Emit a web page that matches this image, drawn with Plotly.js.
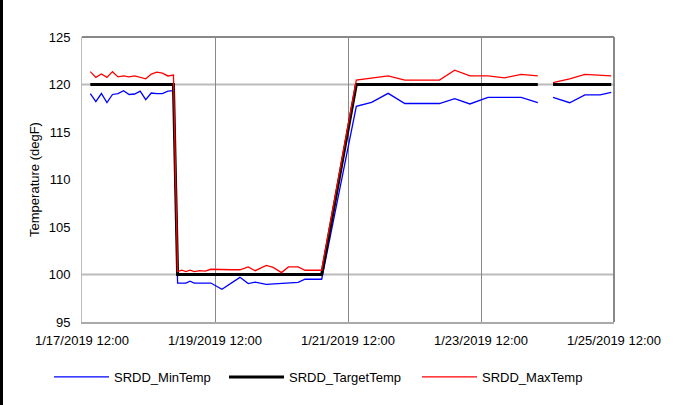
<!DOCTYPE html>
<html>
<head>
<meta charset="utf-8">
<script src="https://cdn.plot.ly/plotly-3.0.1.min.js"></script>
<style>
html,body{margin:0;padding:0;background:#fff;}
#frame{position:absolute;left:0;top:0;width:673px;height:405px;box-sizing:border-box;border-left:3px solid #000;}
#chart{position:absolute;left:0;top:0;width:673px;height:405px;}
</style>
</head>
<body>
<div id="chart"></div>
<div id="frame"></div>
<script>
// Sample times
const times = [
  "2019-01-17 15:00","2019-01-17 17:00","2019-01-17 19:00","2019-01-17 21:00","2019-01-17 23:00",
  "2019-01-18 01:00","2019-01-18 03:00","2019-01-18 05:00","2019-01-18 07:00","2019-01-18 09:00",
  "2019-01-18 11:00","2019-01-18 13:00","2019-01-18 15:00","2019-01-18 17:00","2019-01-18 19:00",
  "2019-01-18 21:00",
  "2019-01-18 22:30","2019-01-19 00:00","2019-01-19 01:30","2019-01-19 03:00","2019-01-19 04:30",
  "2019-01-19 06:30","2019-01-19 08:30","2019-01-19 10:30","2019-01-19 14:30","2019-01-19 18:00",
  "2019-01-19 21:00","2019-01-20 00:00","2019-01-20 02:30","2019-01-20 06:30","2019-01-20 09:00",
  "2019-01-20 12:00","2019-01-20 14:30","2019-01-20 18:00","2019-01-20 20:30","2019-01-21 02:30",
  "2019-01-21 15:00","2019-01-21 20:30","2019-01-22 02:30","2019-01-22 08:30","2019-01-22 15:00",
  "2019-01-22 21:00","2019-01-23 02:30","2019-01-23 08:00","2019-01-23 14:30","2019-01-23 20:30",
  "2019-01-24 02:30","2019-01-24 08:30","2019-01-24 11:00","2019-01-24 14:00","2019-01-24 20:00",
  "2019-01-25 01:30","2019-01-25 07:00","2019-01-25 11:00"
];
const minTemp = [
  119.05,118.2,119.05,118.1,118.95,119.05,119.35,118.95,119.0,119.3,
  118.4,119.1,119.05,119.05,119.3,119.35,
  99.1,99.1,99.1,99.3,99.1,99.1,99.1,99.1,98.45,99.1,
  99.7,99.05,99.2,98.97,99.0,99.07,99.14,99.18,99.5,99.5,
  117.7,118.12,119.07,118.0,118.0,118.0,118.5,117.95,118.65,118.62,
  118.65,118.08,null,118.65,118.08,118.9,118.9,119.18
];
const targetTemp = [
  120,120,120,120,120,120,120,120,120,120,
  120,120,120,120,120,120,
  100,100,100,100,100,100,100,100,100,100,
  100,100,100,100,100,100,100,100,100,100,
  120,120,120,120,120,120,120,120,120,120,
  120,120,null,120,120,120,120,120
];
const maxTemp = [
  121.35,120.75,121.1,120.75,121.35,120.8,120.9,120.8,120.9,120.75,
  120.6,121.1,121.3,121.2,120.9,121.0,
  100.3,100.45,100.3,100.45,100.3,100.4,100.35,100.55,100.5,100.5,
  100.5,100.8,100.4,100.95,100.75,100.2,100.8,100.8,100.45,100.45,
  120.47,120.65,120.9,120.47,120.47,120.47,121.5,120.9,120.9,120.7,
  121.07,120.9,null,120.2,120.6,121.07,121.0,120.9
];
const xTickVals = ["2019-01-17 12:00","2019-01-19 12:00","2019-01-21 12:00","2019-01-23 12:00","2019-01-25 12:00"];
const xTickText = ["1/17/2019 12:00","1/19/2019 12:00","1/21/2019 12:00","1/23/2019 12:00","1/25/2019 12:00"];
const yTickVals = [95,100,105,110,115,120,125];

const font = {family:"Liberation Sans, Arial, sans-serif", size:13, color:"#000"};

const traces = [
  {x:times, y:minTemp, name:"SRDD_MinTemp", type:"scatter", mode:"lines", line:{color:"#0000ff", width:1.3}, legend:"legend"},
  {x:times, y:targetTemp, name:"SRDD_TargetTemp", type:"scatter", mode:"lines", line:{color:"#000000", width:3}, legend:"legend2"},
  {x:times, y:maxTemp, name:"SRDD_MaxTemp", type:"scatter", mode:"lines", line:{color:"#ff0000", width:1.3}, legend:"legend3"}
];

function leg(px) {
  return {orientation:"h", xref:"container", yref:"container", x:px/673, y:1-377/405, xanchor:"left", yanchor:"middle",
          font:{family:font.family, size:13, color:"#000"}, itemwidth:55, bgcolor:"rgba(0,0,0,0)"};
}

const layout = {
  width:673, height:405,
  margin:{l:82, r:59, t:37, b:83},
  paper_bgcolor:"#fff", plot_bgcolor:"#fff",
  font:font,
  showlegend:true,
  legend:leg(49), legend2:leg(224), legend3:leg(417),
  xaxis:{
    type:"date",
    range:["2019-01-17 12:00","2019-01-25 12:00"],
    tickvals:xTickVals, ticktext:xTickText,
    showgrid:true, gridcolor:"#888", gridwidth:1,
    showline:true, linecolor:"#aaa", linewidth:2, mirror:false,
    ticks:"outside", ticklen:5, tickcolor:"rgba(0,0,0,0)",
    zeroline:false, tickfont:font
  },
  yaxis:{
    range:[95,125], tickvals:yTickVals,
    showgrid:false,
    showline:true, linecolor:"#bbb", linewidth:1,
    ticks:"outside", ticklen:8, tickcolor:"rgba(0,0,0,0)",
    zeroline:false, tickfont:font,
    title:{text:"Temperature (degF)", font:{family:font.family, size:13, color:"#000"}, standoff:6}
  },
  shapes:[
    {type:"line", xref:"paper", yref:"y", x0:0, x1:1, y0:120, y1:120, line:{color:"#bbb", width:2}, layer:"below"},
    {type:"line", xref:"paper", yref:"y", x0:0, x1:1, y0:100, y1:100, line:{color:"#bbb", width:2}, layer:"below"},
    {type:"line", xref:"paper", yref:"paper", x0:0, x1:1, y0:1, y1:1, line:{color:"#888", width:2}},
    {type:"line", xref:"paper", yref:"paper", x0:1, x1:1, y0:0, y1:1, line:{color:"#888", width:2}}
  ]
};

Plotly.newPlot("chart", traces, layout, {staticPlot:true});
</script>
</body>
</html>
